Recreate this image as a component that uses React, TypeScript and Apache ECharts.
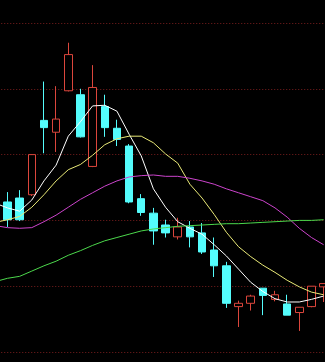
import React, { useEffect, useRef } from "react";
import * as echarts from "echarts";

// One leading category sits just off the left edge (only the MA lines enter from it).
const categories = [
  "K00", "K01", "K02", "K03", "K04", "K05", "K06", "K07", "K08", "K09",
  "K10", "K11", "K12", "K13", "K14", "K15", "K16", "K17", "K18", "K19",
  "K20", "K21", "K22", "K23", "K24", "K25", "K26", "K27",
];

// Candles for K01..K27: open, close, low, high
const opens = [
  12.28, 12.34, 12.39, 13.52, 13.34, 13.97, 13.91, 12.82, 13.73, 13.4,
  13.13, 12.33, 12.11, 11.93, 11.75, 11.9, 11.81, 11.55, 11.31, 10.69,
  10.74, 10.97, 10.8, 10.73, 10.6, 10.69, 10.99,
];
const closes = [
  12.01, 12.01, 13.0, 13.41, 13.54, 14.52, 13.27, 14.02, 13.41, 13.23,
  12.28, 12.12, 11.84, 11.81, 11.9, 11.75, 11.52, 11.31, 10.74, 10.74,
  10.85, 10.86, 10.87, 10.56, 10.68, 11.0, 11.04,
];
const lows = [
  11.9, 11.99, 12.37, 13.02, 13.04, 13.96, 13.26, 12.81, 13.27, 13.13,
  12.26, 12.07, 11.63, 11.74, 11.71, 11.59, 11.49, 11.14, 10.67, 10.38,
  10.63, 10.56, 10.77, 10.56, 10.32, 10.68, 10.76,
];
const highs = [
  12.43, 12.46, 13.0, 14.11, 14.04, 14.7, 14.0, 14.36, 13.91, 13.53,
  13.16, 12.4, 12.19, 12.01, 12.04, 11.99, 11.96, 11.74, 11.37, 10.78,
  10.87, 10.97, 10.93, 10.87, 10.68, 11.0, 11.04,
];

// Moving averages for K00..K27
const ma5 = [
  12.26, 12.19, 12.14, 12.31, 12.6, 12.84, 13.28, 13.5, 13.74, 13.75,
  13.66, 13.31, 12.98, 12.48, 12.2, 11.98, 11.88, 11.79, 11.63, 11.46,
  11.26, 11.06, 10.92, 10.81, 10.76, 10.76, 10.8, 10.85,
];
const ma10 = [
  11.97, 12.01, 12.06, 12.2, 12.39, 12.6, 12.77, 12.85, 12.99, 13.15,
  13.24, 13.28, 13.28, 13.18, 13.01, 12.87, 12.55, 12.34, 12.09, 11.82,
  11.6, 11.45, 11.32, 11.21, 11.09, 10.99, 10.91, 10.87,
];
const ma20 = [
  11.92, 11.89, 11.88, 11.89, 11.98, 12.08, 12.2, 12.32, 12.42, 12.52,
  12.6, 12.66, 12.68, 12.69, 12.67, 12.67, 12.64, 12.6, 12.55, 12.48,
  12.42, 12.36, 12.3, 12.19, 12.05, 11.88, 11.74, 11.63,
];
const ma60 = [
  11.07, 11.12, 11.15, 11.23, 11.31, 11.38, 11.47, 11.54, 11.62, 11.69,
  11.74, 11.79, 11.84, 11.87, 11.89, 11.91, 11.92, 11.93, 11.94, 11.95,
  11.95, 11.96, 11.97, 11.98, 11.99, 12.0, 12.0, 12.01,
];

const yMin = 10;
const yMax = 15;
const yStep = 1;

export default function App() {
  const ref = useRef<HTMLDivElement>(null);

  useEffect(() => {
    if (!ref.current) return;
    const chart = echarts.init(ref.current, null, { renderer: "svg" });
    const candleData: any[] = ["-"];
    opens.forEach((o, i) => candleData.push([o, closes[i], lows[i], highs[i]]));

    const band = 12.16;
    const lineSeries = (name: string, data: number[], color: string) => ({
      name,
      type: "line",
      data,
      symbol: "none",
      showSymbol: false,
      smooth: false,
      clip: false,
      lineStyle: { color, width: 1 },
      emphasis: { disabled: true },
      z: 3,
    });

    chart.setOption({
      animation: false,
      backgroundColor: "#000000",
      grid: {
        left: 1.4 - band,
        top: 23,
        width: band * categories.length,
        height: 329,
        containLabel: false,
        outerBoundsMode: "none",
      },
      xAxis: {
        type: "category",
        data: categories,
        boundaryGap: true,
        axisLine: { show: false },
        axisTick: { show: false },
        axisLabel: { show: false },
        splitLine: { show: false },
      },
      yAxis: {
        type: "value",
        min: yMin,
        max: yMax,
        interval: yStep,
        scale: true,
        axisLine: { show: false },
        axisTick: { show: false },
        axisLabel: { show: false },
        splitLine: {
          show: true,
          lineStyle: { color: "#7a1e1e", width: 1, type: [1, 2] },
        },
      },
      series: [
        {
          name: "K",
          type: "candlestick",
          data: candleData,
          barWidth: 8,
          clip: false,
          itemStyle: {
            color: "#000000",
            color0: "#54fcfc",
            borderColor: "#dc463c",
            borderColor0: "#54fcfc",
            borderWidth: 1,
          },
          emphasis: { disabled: true },
          z: 2,
        },
        lineSeries("MA5", ma5, "#ffffff"),
        lineSeries("MA10", ma10, "#eaea78"),
        lineSeries("MA20", ma20, "#cc44cc"),
        lineSeries("MA60", ma60, "#4cd84c"),
      ],
    });
    return () => chart.dispose();
  }, []);

  return (
    <div
      ref={ref}
      style={{ position: "fixed", left: 0, top: 0, width: 325, height: 362 }}
    />
  );
}
